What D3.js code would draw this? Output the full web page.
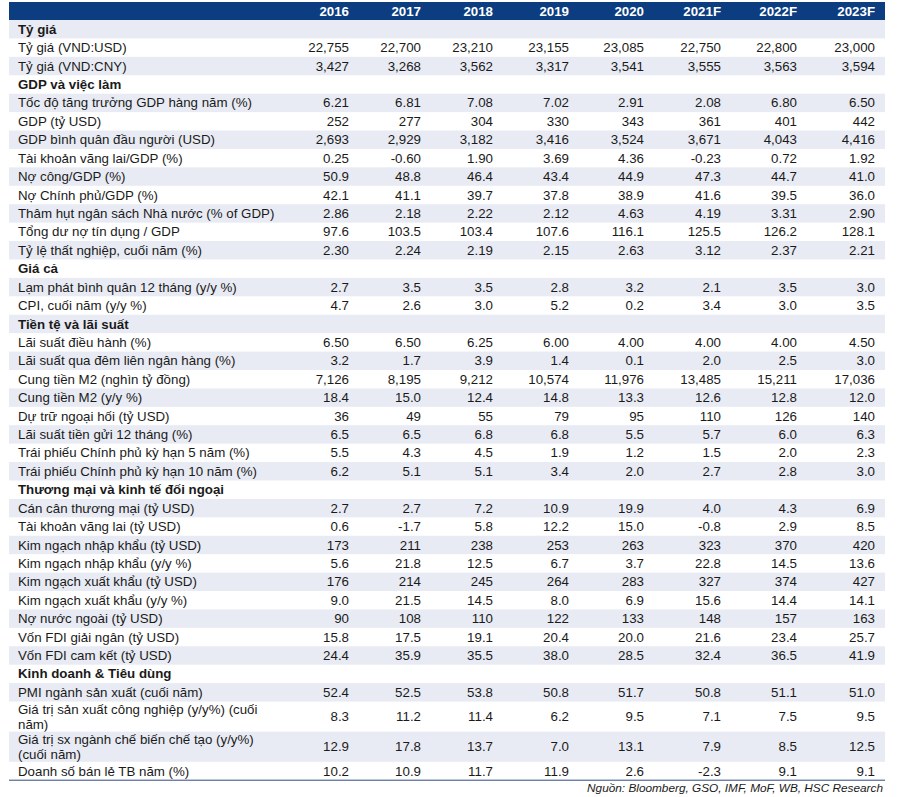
<!DOCTYPE html>
<html>
<head>
<meta charset="utf-8">
<script src="https://cdn.jsdelivr.net/npm/d3@7"></script>
<style>
  body { margin: 0; background: #fff; }
  svg { display: block; font-family: "Liberation Sans", Arial, sans-serif; }
</style>
</head>
<body>
<div id="chart"></div>
<script>
// column headers
const years = ["2016", "2017", "2018", "2019", "2020", "2021F", "2022F", "2023F"];

// section titles
const sections = [
    "Tỷ giá",
    "GDP và việc làm",
    "Giá cả",
    "Tiền tệ và lãi suất",
    "Thương mại và kinh tế đối ngoại",
    "Kinh doanh & Tiêu dùng"
];

// row labels, section of each row, decimals shown
const labels = [
    "Tỷ giá (VND:USD)",
    "Tỷ giá (VND:CNY)",
    "Tốc độ tăng trưởng GDP hàng năm (%)",
    "GDP (tỷ USD)",
    "GDP bình quân đầu người (USD)",
    "Tài khoản vãng lai/GDP (%)",
    "Nợ công/GDP (%)",
    "Nợ Chính phủ/GDP (%)",
    "Thâm hụt ngân sách Nhà nước (% of GDP)",
    "Tổng dư nợ tín dụng / GDP",
    "Tỷ lệ thất nghiệp, cuối năm (%)",
    "Lạm phát bình quân 12 tháng (y/y %)",
    "CPI, cuối năm (y/y %)",
    "Lãi suất điều hành (%)",
    "Lãi suất qua đêm liên ngân hàng (%)",
    "Cung tiền M2 (nghìn tỷ đồng)",
    "Cung tiền M2 (y/y %)",
    "Dự trữ ngoại hối (tỷ USD)",
    "Lãi suất tiền gửi 12 tháng (%)",
    "Trái phiếu Chính phủ kỳ hạn 5 năm (%)",
    "Trái phiếu Chính phủ kỳ hạn 10 năm (%)",
    "Cán cân thương mại (tỷ USD)",
    "Tài khoản vãng lai (tỷ USD)",
    "Kim ngạch nhập khẩu (tỷ USD)",
    "Kim ngạch nhập khẩu (y/y %)",
    "Kim ngạch xuất khẩu (tỷ USD)",
    "Kim ngạch xuất khẩu (y/y %)",
    "Nợ nước ngoài (tỷ USD)",
    "Vốn FDI giải ngân (tỷ USD)",
    "Vốn FDI cam kết (tỷ USD)",
    "PMI ngành sản xuất (cuối năm)",
    "Giá trị sản xuất công nghiệp (y/y%) (cuối năm)",
    "Giá trị sx ngành chế biến chế tạo (y/y%) (cuối năm)",
    "Doanh số bán lẻ TB năm (%)"
];

const rowSection = [0, 0, 1, 1, 1, 1, 1, 1, 1, 1, 1, 2, 2, 3, 3, 3, 3, 3, 3, 3, 3,
    4, 4, 4, 4, 4, 4, 4, 4, 4, 5, 5, 5, 5];

const decimals = [0, 0, 2, 0, 0, 2, 1, 1, 2, 1, 2, 1, 1, 2, 1, 0, 1, 0, 1, 1, 1,
    1, 1, 0, 1, 0, 1, 0, 1, 1, 1, 1, 1, 1];

const values = [
    [22755, 22700, 23210, 23155, 23085, 22750, 22800, 23000],
    [3427, 3268, 3562, 3317, 3541, 3555, 3563, 3594],
    [6.21, 6.81, 7.08, 7.02, 2.91, 2.08, 6.80, 6.50],
    [252, 277, 304, 330, 343, 361, 401, 442],
    [2693, 2929, 3182, 3416, 3524, 3671, 4043, 4416],
    [0.25, -0.60, 1.90, 3.69, 4.36, -0.23, 0.72, 1.92],
    [50.9, 48.8, 46.4, 43.4, 44.9, 47.3, 44.7, 41.0],
    [42.1, 41.1, 39.7, 37.8, 38.9, 41.6, 39.5, 36.0],
    [2.86, 2.18, 2.22, 2.12, 4.63, 4.19, 3.31, 2.90],
    [97.6, 103.5, 103.4, 107.6, 116.1, 125.5, 126.2, 128.1],
    [2.30, 2.24, 2.19, 2.15, 2.63, 3.12, 2.37, 2.21],
    [2.7, 3.5, 3.5, 2.8, 3.2, 2.1, 3.5, 3.0],
    [4.7, 2.6, 3.0, 5.2, 0.2, 3.4, 3.0, 3.5],
    [6.50, 6.50, 6.25, 6.00, 4.00, 4.00, 4.00, 4.50],
    [3.2, 1.7, 3.9, 1.4, 0.1, 2.0, 2.5, 3.0],
    [7126, 8195, 9212, 10574, 11976, 13485, 15211, 17036],
    [18.4, 15.0, 12.4, 14.8, 13.3, 12.6, 12.8, 12.0],
    [36, 49, 55, 79, 95, 110, 126, 140],
    [6.5, 6.5, 6.8, 6.8, 5.5, 5.7, 6.0, 6.3],
    [5.5, 4.3, 4.5, 1.9, 1.2, 1.5, 2.0, 2.3],
    [6.2, 5.1, 5.1, 3.4, 2.0, 2.7, 2.8, 3.0],
    [2.7, 2.7, 7.2, 10.9, 19.9, 4.0, 4.3, 6.9],
    [0.6, -1.7, 5.8, 12.2, 15.0, -0.8, 2.9, 8.5],
    [173, 211, 238, 253, 263, 323, 370, 420],
    [5.6, 21.8, 12.5, 6.7, 3.7, 22.8, 14.5, 13.6],
    [176, 214, 245, 264, 283, 327, 374, 427],
    [9.0, 21.5, 14.5, 8.0, 6.9, 15.6, 14.4, 14.1],
    [90, 108, 110, 122, 133, 148, 157, 163],
    [15.8, 17.5, 19.1, 20.4, 20.0, 21.6, 23.4, 25.7],
    [24.4, 35.9, 35.5, 38.0, 28.5, 32.4, 36.5, 41.9],
    [52.4, 52.5, 53.8, 50.8, 51.7, 50.8, 51.1, 51.0],
    [8.3, 11.2, 11.4, 6.2, 9.5, 7.1, 7.5, 9.5],
    [12.9, 17.8, 13.7, 7.0, 13.1, 7.9, 8.5, 12.5],
    [10.2, 10.9, 11.7, 11.9, 2.6, -2.3, 9.1, 9.1]
];

const source = "Nguồn: Bloomberg, GSO, IMF, MoF, WB, HSC Research";

// layout
var width = 900, height = 797;
var left = 9, right = 885, labelX = 18;
var headerTop = 2, headerH = 18;
var rowH = 18.42, lineH = 15, wrapW = 263;
var fontSize = 13.3;
var navy = "#0b3d80", stripe = "#e8ebf3", ink = "#1a1a1a";

var svg = d3.select("#chart").append("svg")
    .attr("width", width)
    .attr("height", height);

// right edge of each year column
var xScale = d3.scaleOrdinal()
    .domain(years)
    .range([349, 421, 493, 569, 644, 721, 797, 875]);

// flatten sections + rows
var rows = [];
sections.forEach(function(s, si) {
    rows.push({ label: s, section: true });
    labels.forEach(function(l, i) {
        if (rowSection[i] == si) {
            rows.push({ label: l, section: false, values: values[i], dec: decimals[i] });
        }
    });
});

// wrap labels to measure row heights
var measure = svg.append("text").style("font-size", fontSize + "px");
function wrapLabel(txt) {
    var words = txt.split(" "), lines = [], cur = "";
    words.forEach(function(w) {
        var test = cur ? cur + " " + w : w;
        measure.text(test);
        if (measure.node().getComputedTextLength() > wrapW && cur) {
            lines.push(cur);
            cur = w;
        } else {
            cur = test;
        }
    });
    lines.push(cur);
    return lines;
}

var y = headerTop + headerH;
rows.forEach(function(r) {
    r.lines = r.section ? [r.label] : wrapLabel(r.label);
    r.h = r.lines.length == 1 ? rowH : rowH + lineH * (r.lines.length - 1) - 3.3;
    r.y = y;
    y += r.h;
});
measure.remove();
var tableBottom = y;

// header
svg.append("rect")
    .attr("x", left).attr("y", headerTop)
    .attr("width", right - left).attr("height", headerH)
    .attr("fill", navy);

svg.selectAll(".year")
    .data(years)
    .enter().append("text")
    .attr("class", "year")
    .attr("x", function(d) { return xScale(d); })
    .attr("y", headerTop + headerH / 2 + 4.6)
    .attr("text-anchor", "end")
    .attr("fill", "#fff")
    .style("font-size", fontSize + "px")
    .style("font-weight", "bold")
    .text(function(d) { return d; });

// rows
var row = svg.selectAll(".row")
    .data(rows)
    .enter().append("g")
    .attr("class", "row")
    .attr("transform", function(d) { return "translate(0," + d.y + ")"; });

row.filter(function(d, i) { return i % 2 == 0; })
    .append("rect")
    .attr("x", left).attr("y", 0)
    .attr("width", right - left)
    .attr("height", function(d) { return d.h; })
    .attr("fill", stripe);

row.each(function(d) {
    var g = d3.select(this);
    var n = d.lines.length;
    var first = d.h / 2 + 4.6 - (n - 1) * lineH / 2;
    d.lines.forEach(function(line, k) {
        g.append("text")
            .attr("x", labelX)
            .attr("y", first + k * lineH)
            .attr("fill", ink)
            .style("font-size", fontSize + "px")
            .style("font-weight", d.section ? "bold" : "normal")
            .text(line);
    });
    if (!d.section) {
        var fmt = d3.format(",." + d.dec + "f");
        g.selectAll(".val")
            .data(d.values)
            .enter().append("text")
            .attr("class", "val")
            .attr("x", function(v, j) { return xScale(years[j]); })
            .attr("y", d.h / 2 + 4.6)
            .attr("text-anchor", "end")
            .attr("fill", ink)
            .style("font-size", fontSize + "px")
            .text(function(v) { return fmt(v).replace("−", "-"); });
    }
});

// bottom rule
svg.append("line")
    .attr("x1", left).attr("x2", right)
    .attr("y1", tableBottom).attr("y2", tableBottom)
    .attr("stroke", "#2a4a80")
    .attr("stroke-width", 1);

// source note
svg.append("text")
    .attr("x", 883)
    .attr("y", tableBottom + 12)
    .attr("text-anchor", "end")
    .attr("fill", ink)
    .style("font-size", "11.8px")
    .style("font-style", "italic")
    .text(source);
</script>
</body>
</html>
